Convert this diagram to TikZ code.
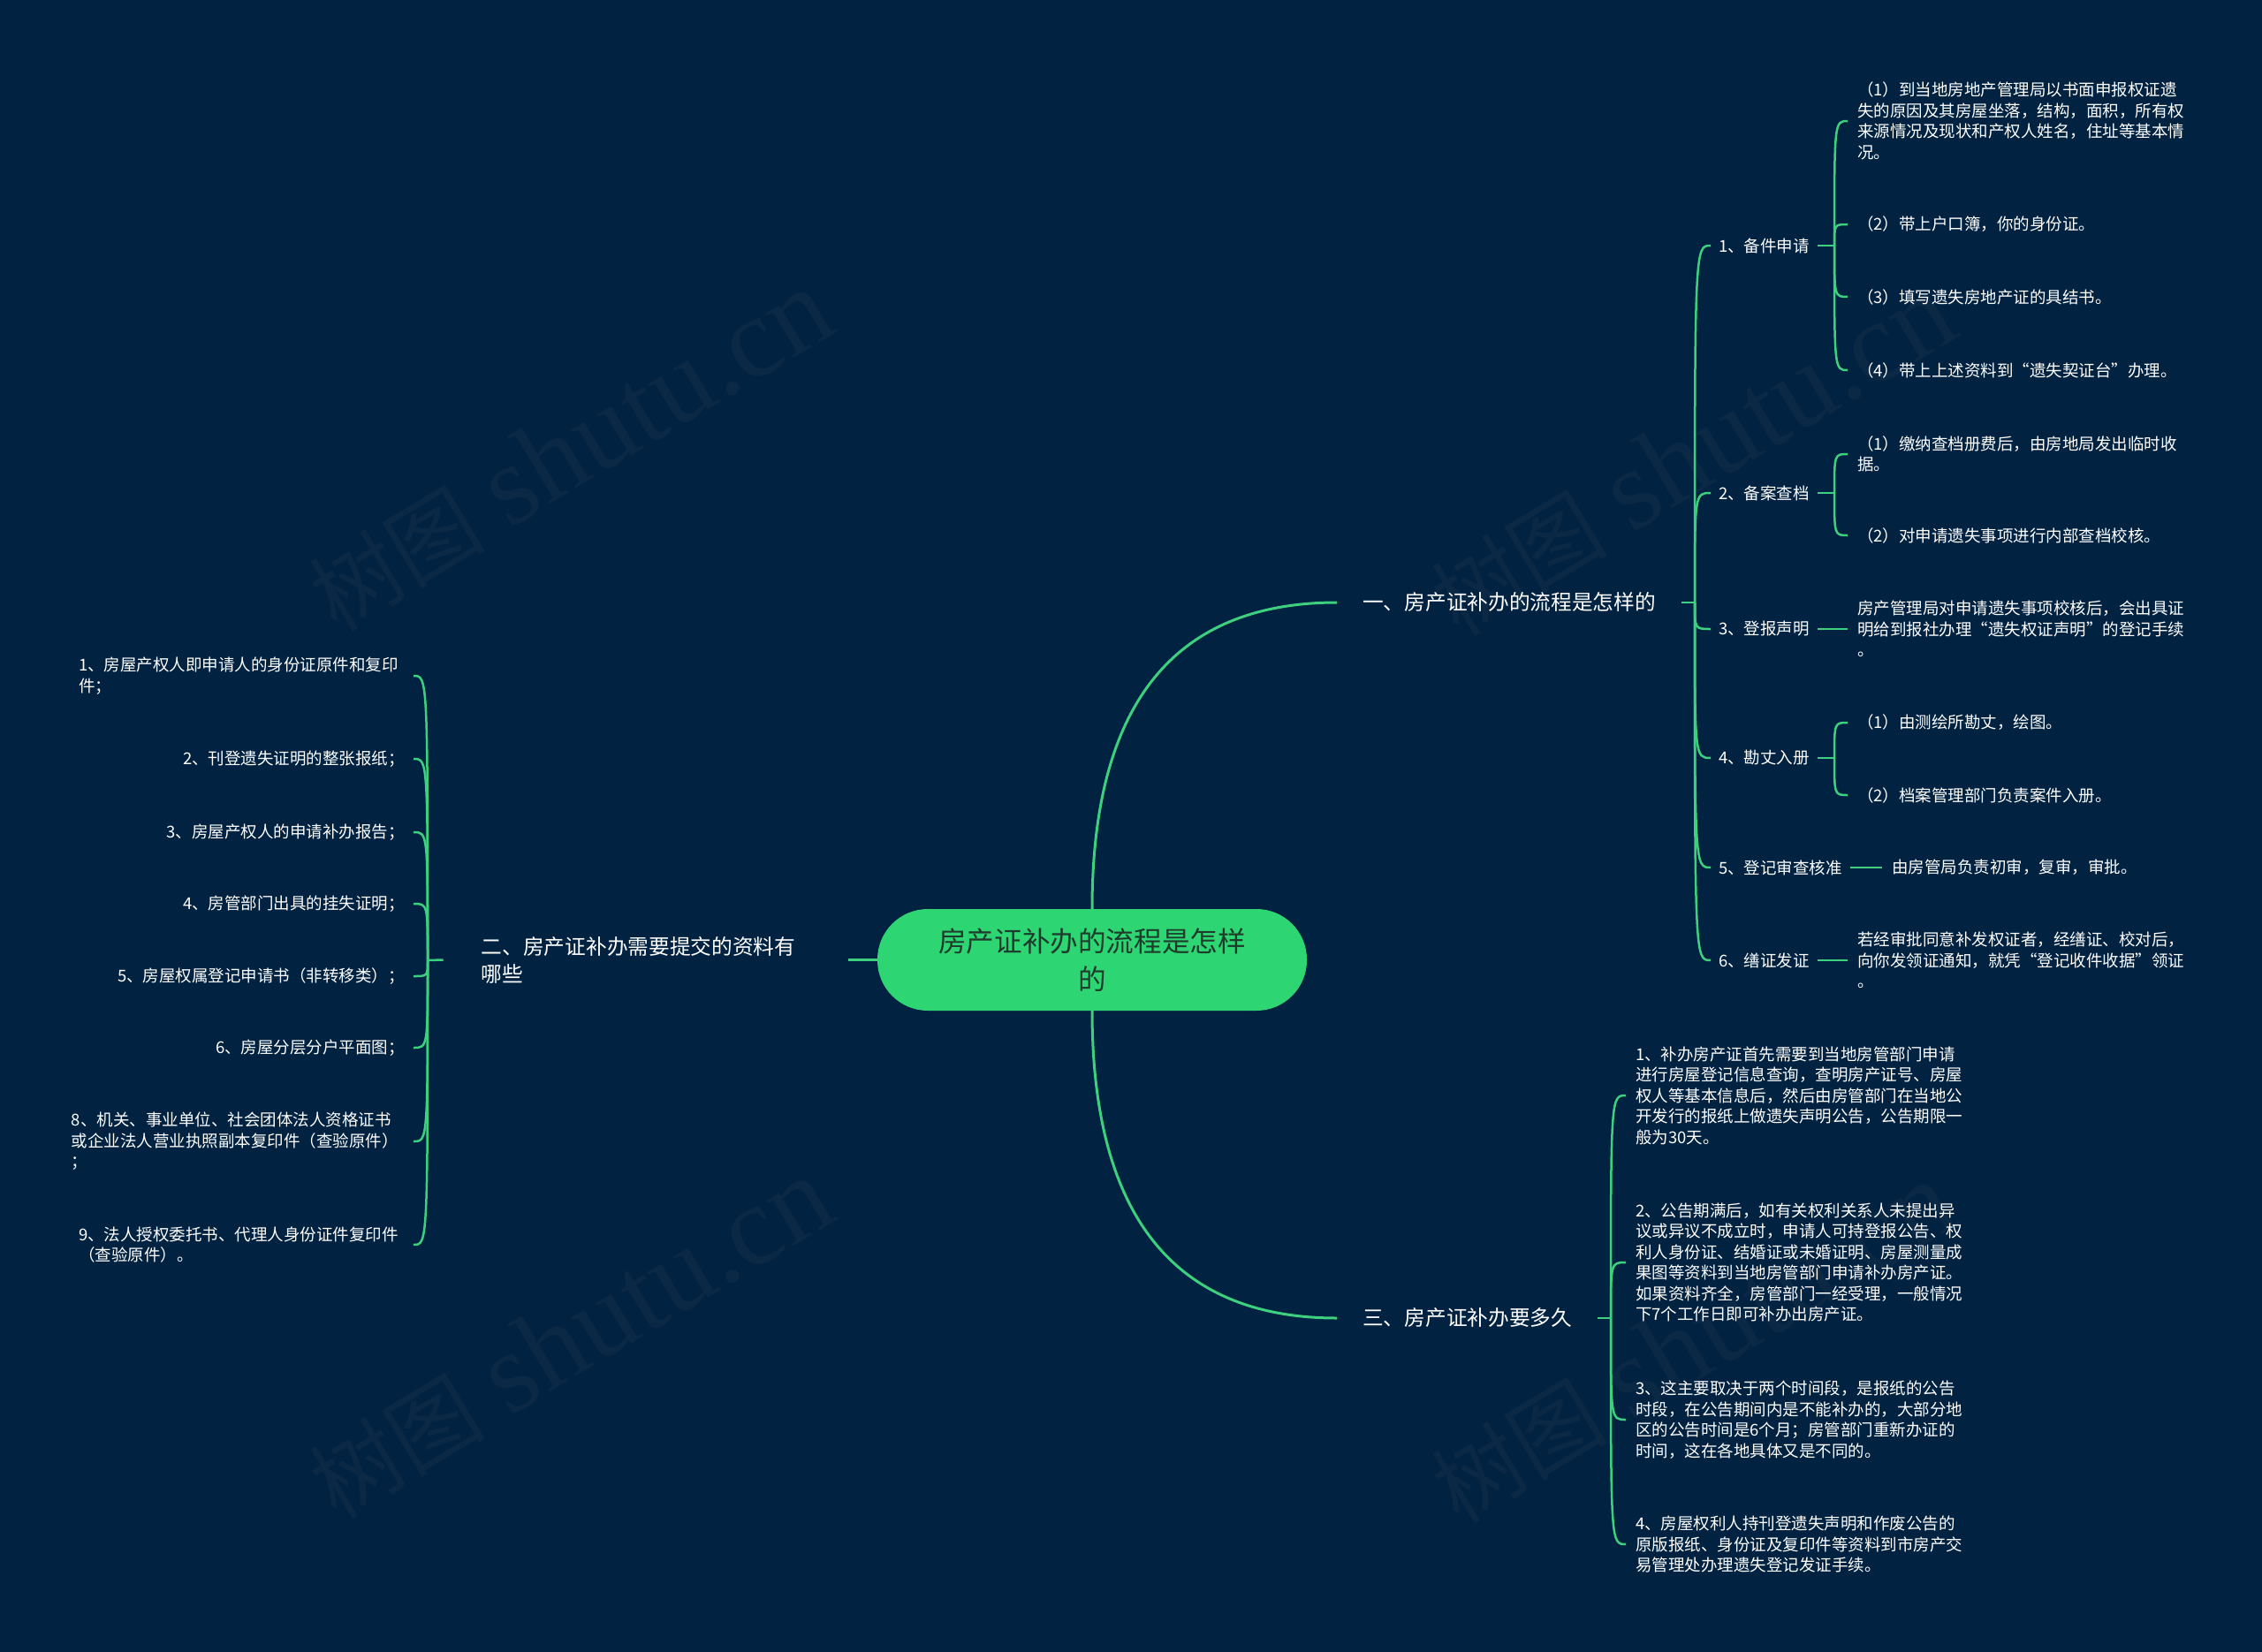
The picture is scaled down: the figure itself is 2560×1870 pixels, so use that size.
\documentclass[tikz,border=0pt]{standalone}
\usepackage{fontspec}
\setmainfont{Noto Sans CJK SC}
\newfontfamily\wmlatin{Liberation Serif}
\definecolor{bgnavy}{HTML}{012241}
\definecolor{linegreen}{HTML}{3DD07E}
\definecolor{rootgreen}{HTML}{2ED573}
\definecolor{roottext}{HTML}{1F3B2C}
\definecolor{wmcolor}{HTML}{0B2845}
\begin{document}
\begin{tikzpicture}[x=1pt,y=-1pt,
	wire/.style={draw=linegreen,line width=2.5pt},
	bigwire/.style={draw=linegreen,line width=3pt},
	roottopic/.style={fill=rootgreen,text=roottext,rounded corners=57pt,minimum width=486pt,minimum height=115pt,align=center,font=\fontsize{31.6}{43}\selectfont},
	topic/.style={text=white,inner xsep=29pt,align=left,font=\fontsize{23.7}{31}\selectfont},
	subtopic/.style={text=white,inner xsep=9pt,font=\fontsize{18.5}{23.5}\selectfont},
	leaf/.style={text=white,inner xsep=11pt,align=left,font=\fontsize{18.5}{23.5}\selectfont},
	leftleaf/.style={leaf,inner xsep=17pt,anchor=east},
	shortleaf/.style={leftleaf,inner xsep=10pt},
	watermark/.style={text=wmcolor,rotate=31}]
	\useasboundingbox (0,0) rectangle (2560,1870);
	\fill[bgnavy] (0,0) rectangle (2560,1870);
	\foreach \wx/\wy in {645/510,1915/515,645/1515,1915/1520}
		\node[watermark] at (\wx,\wy) {{\fontsize{100}{100}\selectfont 树图}\hspace{28pt}{\wmlatin\fontsize{130}{130}\selectfont shutu.cn}};
	
	%ROOT
	\node[roottopic] (root) at (1236,1086.5) {房产证补办的流程是怎样\\的};
	\node[topic,anchor=west] (b1) at (1513,682) {一、房产证补办的流程是怎样的};
	\node[topic,anchor=west] (b3) at (1513,1492) {三、房产证补办要多久};
	\node[topic,anchor=east,text width=372pt,inner xsep=43pt] (b2) at (960,1086.5) {二、房产证补办需要提交的资料有\\哪些};
	\draw[bigwire] (root.north) .. controls +(0,-232) and +(-184,0) .. (b1.west);
	\draw[bigwire] (root.south) .. controls +(0,232) and +(-184,0) .. (b3.west);
	\draw[bigwire] (root.west) -- (b2.east);
	
	%FIRST
	\coordinate (j1) at (1918,682);
	\draw[wire] (b1.east) -- (j1);
	\node[subtopic,anchor=west] (s1) at (1936,278) {1、备件申请};
	\node[subtopic,anchor=west] (s2) at (1936,558) {2、备案查档};
	\node[subtopic,anchor=west] (s3) at (1936,712) {3、登报声明};
	\node[subtopic,anchor=west] (s4) at (1936,858) {4、勘丈入册};
	\node[subtopic,anchor=west] (s5) at (1936,982) {5、登记审查核准};
	\node[subtopic,anchor=west] (s6) at (1936,1087) {6、缮证发证};
	\foreach \s in {1,...,6}
		\draw[wire] (j1) .. controls (j1 |- s\s.west) .. (s\s.west);
	
	\node[leaf,anchor=west] (l1a) at (2091,137) {（1）到当地房地产管理局以书面申报权证遗\\失的原因及其房屋坐落，结构，面积，所有权\\来源情况及现状和产权人姓名，住址等基本情\\况。};
	\node[leaf,anchor=west] (l1b) at (2091,254) {（2）带上户口簿，你的身份证。};
	\node[leaf,anchor=west] (l1c) at (2091,336) {（3）填写遗失房地产证的具结书。};
	\node[leaf,anchor=west] (l1d) at (2091,419) {（4）带上上述资料到“遗失契证台”办理。};
	\coordinate (j11) at (2076,278);
	\draw[wire] (s1.east) -- (j11);
	\foreach \l in {a,b,c,d}
		\draw[wire] (j11) .. controls (j11 |- l1\l.west) .. (l1\l.west);
	
	\node[leaf,anchor=west] (l2a) at (2091,514) {（1）缴纳查档册费后，由房地局发出临时收\\据。};
	\node[leaf,anchor=west] (l2b) at (2091,606) {（2）对申请遗失事项进行内部查档校核。};
	\coordinate (j12) at (2076,558);
	\draw[wire] (s2.east) -- (j12);
	\foreach \l in {a,b}
		\draw[wire] (j12) .. controls (j12 |- l2\l.west) .. (l2\l.west);
	
	\node[leaf,anchor=west] (l3) at (2091,712) {房产管理局对申请遗失事项校核后，会出具证\\明给到报社办理“遗失权证声明”的登记手续\\。};
	\draw[wire] (s3.east) -- (l3.west);
	
	\node[leaf,anchor=west] (l4a) at (2091,818) {（1）由测绘所勘丈，绘图。};
	\node[leaf,anchor=west] (l4b) at (2091,900) {（2）档案管理部门负责案件入册。};
	\coordinate (j14) at (2076,858);
	\draw[wire] (s4.east) -- (j14);
	\foreach \l in {a,b}
		\draw[wire] (j14) .. controls (j14 |- l4\l.west) .. (l4\l.west);
	
	\node[leaf,anchor=west] (l5) at (2130,982) {由房管局负责初审，复审，审批。};
	\draw[wire] (s5.east) -- (l5.west);
	
	\node[leaf,anchor=west] (l6) at (2091,1087) {若经审批同意补发权证者，经缮证、校对后，\\向你发领证通知，就凭“登记收件收据”领证\\。};
	\draw[wire] (s6.east) -- (l6.west);
	
	%THIRD
	\coordinate (j3) at (1823,1492);
	\draw[wire] (b3.east) -- (j3);
	\node[leaf,anchor=west] (t1) at (1840,1240) {1、补办房产证首先需要到当地房管部门申请\\进行房屋登记信息查询，查明房产证号、房屋\\权人等基本信息后，然后由房管部门在当地公\\开发行的报纸上做遗失声明公告，公告期限一\\般为30天。};
	\node[leaf,anchor=west] (t2) at (1840,1429) {2、公告期满后，如有关权利关系人未提出异\\议或异议不成立时，申请人可持登报公告、权\\利人身份证、结婚证或未婚证明、房屋测量成\\果图等资料到当地房管部门申请补办房产证。\\如果资料齐全，房管部门一经受理，一般情况\\下7个工作日即可补办出房产证。};
	\node[leaf,anchor=west] (t3) at (1840,1607) {3、这主要取决于两个时间段，是报纸的公告\\时段，在公告期间内是不能补办的，大部分地\\区的公告时间是6个月；房管部门重新办证的\\时间，这在各地具体又是不同的。};
	\node[leaf,anchor=west] (t4) at (1840,1748) {4、房屋权利人持刊登遗失声明和作废公告的\\原版报纸、身份证及复印件等资料到市房产交\\易管理处办理遗失登记发证手续。};
	\foreach \t in {1,...,4}
		\draw[wire] (j3) .. controls (j3 |- t\t.west) .. (t\t.west);
	
	%SECOND
	\coordinate (j2) at (484,1087);
	\draw[wire] (b2.west) -- (j2);
	\node[leftleaf] (p1) at (468,765) {1、房屋产权人即申请人的身份证原件和复印\\件；};
	\node[shortleaf] (p2) at (468,859) {2、刊登遗失证明的整张报纸；};
	\node[shortleaf] (p3) at (468,942) {3、房屋产权人的申请补办报告；};
	\node[shortleaf] (p4) at (468,1023) {4、房管部门出具的挂失证明；};
	\node[shortleaf] (p5) at (468,1105) {5、房屋权属登记申请书（非转移类）；};
	\node[shortleaf] (p6) at (468,1186) {6、房屋分层分户平面图；};
	\node[leftleaf] (p7) at (468,1292) {8、机关、事业单位、社会团体法人资格证书\\或企业法人营业执照副本复印件（查验原件）\\；};
	\node[leftleaf] (p8) at (468,1409) {9、法人授权委托书、代理人身份证件复印件\\（查验原件）。};
	\foreach \p in {1,...,8}
		\draw[wire] (j2) .. controls (j2 |- p\p.east) .. (p\p.east);
\end{tikzpicture}
\end{document}
